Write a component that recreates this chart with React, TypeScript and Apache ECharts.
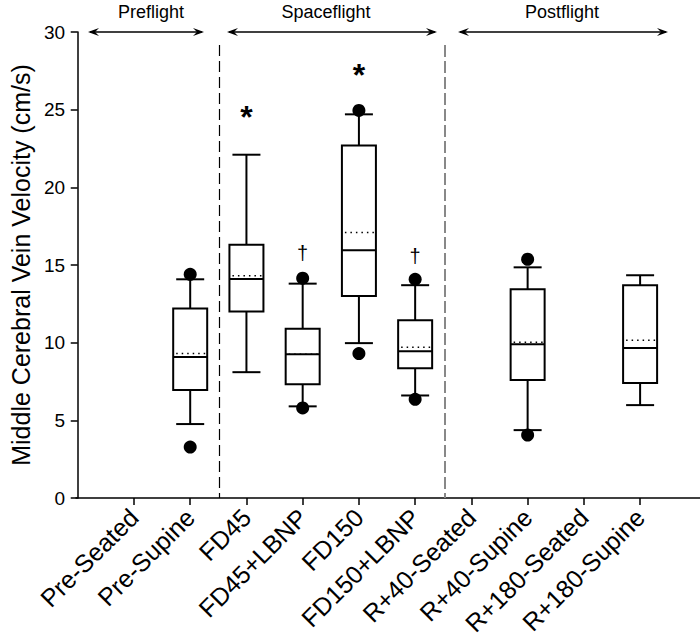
import React, { useEffect, useRef } from "react";
import * as echarts from "echarts";

const categories = [
  "Pre-Seated",
  "Pre-Supine",
  "FD45",
  "FD45+LBNP",
  "FD150",
  "FD150+LBNP",
  "R+40-Seated",
  "R+40-Supine",
  "R+180-Seated",
  "R+180-Supine",
];

// [position, lowerWhisker, q1, median, q3, upperWhisker, mean]
const boxStats: number[][] = [
  [2, 4.76, 6.95, 9.07, 12.2, 14.08, 9.3],
  [3, 8.1, 12.0, 14.1, 16.3, 22.1, 14.3],
  [4, 5.9, 7.33, 9.26, 10.9, 13.8, 9.26],
  [5, 9.97, 13.0, 15.95, 22.7, 24.7, 17.1],
  [6, 6.6, 8.36, 9.45, 11.45, 13.7, 9.7],
  [8, 4.37, 7.59, 9.9, 13.44, 14.85, 10.03],
  [10, 5.98, 7.4, 9.65, 13.7, 14.34, 10.16],
];

// [position, value]
const outliers: number[][] = [
  [2, 14.4],
  [2, 3.28],
  [4, 14.15],
  [4, 5.8],
  [5, 24.95],
  [5, 9.3],
  [6, 14.08],
  [6, 6.35],
  [8, 15.37],
  [8, 4.05],
];

// significance marks: [position, value, mark]
const asterisks: (number | string)[][] = [
  [3, 24.55, "*"],
  [5, 27.25, "*"],
];
const daggers: (number | string)[][] = [
  [4, 15.75, "†"],
  [6, 15.6, "†"],
];

const phases = ["Preflight", "Spaceflight", "Postflight"];
const yTicks = [0, 5, 10, 15, 20, 25, 30];

const FONT = "'Liberation Sans', Arial, sans-serif";

function arrow(x1: number, x2: number, y: number) {
  const L = 11;
  const W = 4;
  const N = 7;
  return [
    {
      type: "line",
      shape: { x1: x1 + 2, y1: y, x2: x2 - 2, y2: y },
      style: { stroke: "#000", lineWidth: 1.5 },
    },
    {
      type: "polygon",
      shape: {
        points: [
          [x1, y],
          [x1 + L, y - W],
          [x1 + N, y],
          [x1 + L, y + W],
        ],
      },
      style: { fill: "#000" },
    },
    {
      type: "polygon",
      shape: {
        points: [
          [x2, y],
          [x2 - L, y - W],
          [x2 - N, y],
          [x2 - L, y + W],
        ],
      },
      style: { fill: "#000" },
    },
  ];
}

export default function App() {
  const ref = useRef<HTMLDivElement>(null);

  useEffect(() => {
    document.body.style.margin = "0";
    document.body.style.overflow = "hidden";
    if (!ref.current) return;
    const chart = echarts.init(ref.current, undefined, { renderer: "svg" });

    const renderBox = (params: any, api: any) => {
      const x = api.value(0);
      const lo = api.coord([x, api.value(1)]);
      const q1 = api.coord([x, api.value(2)]);
      const med = api.coord([x, api.value(3)]);
      const q3 = api.coord([x, api.value(4)]);
      const hi = api.coord([x, api.value(5)]);
      const mean = api.coord([x, api.value(6)]);
      const cx = lo[0];
      const bw = 34;
      const cw = 28;
      const ls = { stroke: "#000", lineWidth: 2, fill: "none" };
      return {
        type: "group",
        children: [
          { type: "line", shape: { x1: cx, y1: hi[1], x2: cx, y2: q3[1] }, style: ls },
          { type: "line", shape: { x1: cx, y1: q1[1], x2: cx, y2: lo[1] }, style: ls },
          { type: "line", shape: { x1: cx - cw / 2, y1: hi[1], x2: cx + cw / 2, y2: hi[1] }, style: ls },
          { type: "line", shape: { x1: cx - cw / 2, y1: lo[1], x2: cx + cw / 2, y2: lo[1] }, style: ls },
          {
            type: "rect",
            shape: { x: cx - bw / 2, y: q3[1], width: bw, height: q1[1] - q3[1] },
            style: { stroke: "#000", lineWidth: 2, fill: "#fff" },
          },
          { type: "line", shape: { x1: cx - bw / 2, y1: med[1], x2: cx + bw / 2, y2: med[1] }, style: ls },
          {
            type: "line",
            shape: { x1: cx - bw / 2 + 3, y1: mean[1], x2: cx + bw / 2 - 1, y2: mean[1] },
            style: { stroke: "#000", lineWidth: 1.5, lineDash: [1.5, 4] },
          },
        ],
      };
    };

    const textRenderer = (font: string) => (params: any, api: any) => {
      const p = api.coord([api.value(0), api.value(1)]);
      const d = params.dataIndex;
      const src = params.seriesName === "ast" ? asterisks : daggers;
      return {
        type: "text",
        x: p[0],
        y: p[1],
        style: {
          text: String(src[d][2]),
          font,
          fill: "#000",
          align: "center",
          verticalAlign: "middle",
        },
      };
    };

    const option: any = {
      animation: false,
      textStyle: { fontFamily: FONT },
      grid: { left: 75, right: 0, top: 32, bottom: 145 },
      xAxis: {
        type: "value",
        min: -0.03,
        max: 11.065,
        splitLine: { show: false },
        axisLine: { show: true, lineStyle: { color: "#000", width: 1.5 } },
        axisTick: {
          show: true,
          length: 7,
          customValues: categories.map((_, i) => i + 1),
          lineStyle: { color: "#000", width: 1.5 },
        },
        axisLabel: {
          show: true,
          customValues: categories.map((_, i) => i + 1),
          formatter: (v: number) => categories[Math.round(v) - 1] ?? "",
          rotate: 45,
          fontSize: 25,
          color: "#000",
          fontFamily: FONT,
          margin: 15,
        },
      },
      yAxis: {
        type: "value",
        min: 0,
        max: 30,
        interval: 5,
        name: "Middle Cerebral Vein Velocity (cm/s)",
        nameLocation: "middle",
        nameGap: 30,
        nameTextStyle: { fontSize: 25, color: "#000", fontFamily: FONT },
        splitLine: { show: false },
        axisLine: { show: true, lineStyle: { color: "#000", width: 1.5 } },
        axisTick: { show: true, length: 7, lineStyle: { color: "#000", width: 1.5 } },
        axisLabel: {
          fontSize: 19,
          color: "#000",
          fontFamily: FONT,
          margin: 11,
          customValues: yTicks,
        },
      },
      series: [
        {
          type: "custom",
          renderItem: renderBox,
          data: boxStats,
          encode: { x: 0, y: [1, 2, 3, 4, 5] },
          z: 2,
        },
        {
          type: "scatter",
          data: outliers,
          symbol: "circle",
          symbolSize: 13,
          itemStyle: { color: "#000", opacity: 1 },
          z: 3,
        },
        {
          type: "custom",
          name: "ast",
          renderItem: textRenderer(`bold 32px ${FONT}`),
          data: asterisks.map((a) => [a[0], a[1]]),
          encode: { x: 0, y: 1 },
          z: 4,
        },
        {
          type: "custom",
          name: "dag",
          renderItem: textRenderer(`20px ${FONT}`),
          data: daggers.map((a) => [a[0], a[1]]),
          encode: { x: 0, y: 1 },
          z: 4,
        },
      ],
      graphic: [
        {
          type: "line",
          shape: { x1: 219.5, y1: 45, x2: 219.5, y2: 498 },
          style: { stroke: "#000", lineWidth: 1.2, lineDash: [11, 5] },
          z: 1,
        },
        {
          type: "line",
          shape: { x1: 445, y1: 45, x2: 445, y2: 498 },
          style: { stroke: "#888", lineWidth: 2, lineDash: [12, 4] },
          z: 1,
        },
        ...arrow(88, 204, 32),
        ...arrow(227, 437, 32),
        ...arrow(458, 668, 32),
        {
          type: "text",
          x: 151,
          y: 12,
          style: { text: phases[0], fill: "#000", font: `18px ${FONT}`, align: "center", verticalAlign: "middle" },
        },
        {
          type: "text",
          x: 326,
          y: 12,
          style: { text: phases[1], fill: "#000", font: `18px ${FONT}`, align: "center", verticalAlign: "middle" },
        },
        {
          type: "text",
          x: 562,
          y: 12,
          style: { text: phases[2], fill: "#000", font: `18px ${FONT}`, align: "center", verticalAlign: "middle" },
        },
      ],
    };

    chart.setOption(option);
    return () => chart.dispose();
  }, []);

  return <div ref={ref} style={{ width: 700, height: 643 }} />;
}
